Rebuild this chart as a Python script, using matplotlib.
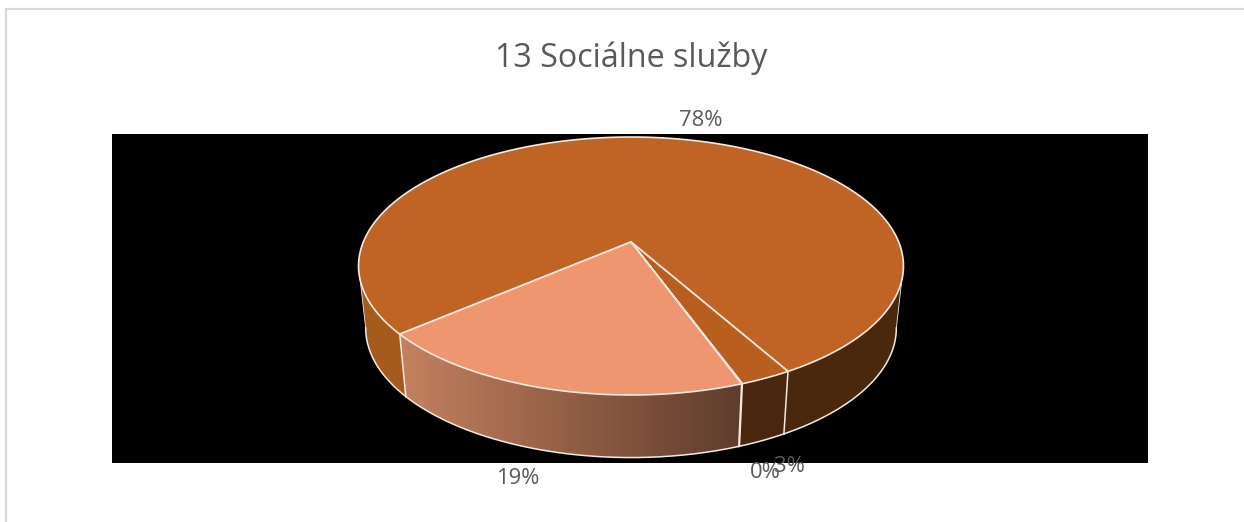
import numpy as np
import matplotlib
matplotlib.use("Agg")
import matplotlib.pyplot as plt
from matplotlib.patches import Polygon, Rectangle
from matplotlib.lines import Line2D

title = "13 Sociálne služby"
categories = ["a", "b", "c", "d"]
shares = [78.1, 2.6, 0.04, 19.26]
labels = ["78%", "3%", "0%", "19%"]
top_colors = ["#C06426", "#B85F20", "#B85F20", "#ED9670"]
side_colors = [("#A55A1E", "#4A280E"), ("#4A260E",), ("#4A260E",), ("#C4815F", "#5F3C2C")]
label_xy = [(701, 120), (789, 466), (765, 472), (518, 478)]

START = 229.4
K = 0.186
AX, BY, Y0 = 267.7, 124.5, 242.0
AX2, BY2, Y02 = 260.7, 125.0, 304.0
CX = 631.0
EDGE = "#F6E9E0"
TEXT = "#595959"
FONT = ["Open Sans", "DejaVu Sans"]

def top(th):
    th = np.radians(th)
    u, v = np.sin(th), np.cos(th)
    w = 1 + K * v
    return CX + AX * u / w, Y0 - BY * v / w

def bot(th):
    th = np.radians(th)
    u, v = np.sin(th), np.cos(th)
    w = 1 + K * v
    return CX + AX2 * u / w, Y02 - BY2 * v / w

fig = plt.figure(figsize=(12.44, 5.22), dpi=100)
ax = fig.add_axes([0, 0, 1, 1])
ax.axis("off")

ax.add_patch(Rectangle((6, 9), 1300, 600, fc="white", ec="#D9D9D9", lw=1.6, zorder=0))
ax.add_patch(Rectangle((112, 134), 1036, 329, fc="black", ec="none", zorder=1))

VIS0, VIS1 = 100.7, 259.3

# slice angle ranges, clockwise from the far side
edges = START + np.cumsum([0] + shares) * 3.6

# side walls
for i in range(len(shares)):
    a0, a1 = edges[i], edges[i + 1]
    ranges = []
    for off in (0, -360):
        lo, hi = max(a0 + off, VIS0), min(a1 + off, VIS1)
        if hi > lo:
            ranges.append((lo, hi))
    for lo, hi in ranges:
        th = np.linspace(lo, hi, 200)
        xt, yt = top(th)
        xb, yb = bot(th)
        pts = np.r_[np.c_[xt, yt], np.c_[xb, yb][::-1]]
        cols = side_colors[i]
        if i == 3:
            poly = Polygon(pts, closed=True, fc="none", ec="none", zorder=2)
            ax.add_patch(poly)
            rgb0 = np.array(matplotlib.colors.to_rgb(cols[0]))
            rgb1 = np.array(matplotlib.colors.to_rgb(cols[1]))
            t = np.linspace(0, 1, 256)[None, :, None]
            grad = rgb0 + (rgb1 - rgb0) * t
            x0, x1 = pts[:, 0].min(), pts[:, 0].max()
            y0, y1 = pts[:, 1].min(), pts[:, 1].max()
            im = ax.imshow(grad, extent=(x0, x1, y1, y0), aspect="auto", zorder=2)
            im.set_clip_path(poly)
        else:
            col = cols[0] if lo > 180 else cols[-1]
            ax.add_patch(Polygon(pts, closed=True, fc=col, ec="none", zorder=2))
        ax.plot(xb, yb, color=EDGE, lw=1.1, zorder=3)

ax.set_xlim(0, 1244)
ax.set_ylim(522, 0)

# vertical seams between walls
for a in edges[:-1]:
    aa = a % 360
    if VIS0 < aa < VIS1:
        xt, yt = top(aa)
        xb, yb = bot(aa)
        ax.add_line(Line2D([xt, xb], [yt, yb], color=EDGE, lw=1.1, zorder=3))

# silhouette edges
for a in (VIS0, VIS1):
    xt, yt = top(a)
    xb, yb = bot(a)
    ax.add_line(Line2D([xt, xb], [yt, yb], color=EDGE, lw=0.6, zorder=3))

# top faces
for i in range(len(shares)):
    th = np.linspace(edges[i], edges[i + 1], 400)
    xt, yt = top(th)
    pts = np.r_[[[CX, Y0]], np.c_[xt, yt]]
    ax.add_patch(Polygon(pts, closed=True, fc=top_colors[i], ec=EDGE, lw=1.2,
                         joinstyle="round", zorder=4))

for s, (x, y) in zip(labels, label_xy):
    ax.text(x, y, s, ha="center", va="center", fontsize=15.8, color=TEXT,
            family=FONT, zorder=5)

ax.text(631, 58, title, ha="center", va="center", fontsize=23.2, color=TEXT,
        family=FONT, zorder=5)

fig.savefig("out.png", dpi=100)
